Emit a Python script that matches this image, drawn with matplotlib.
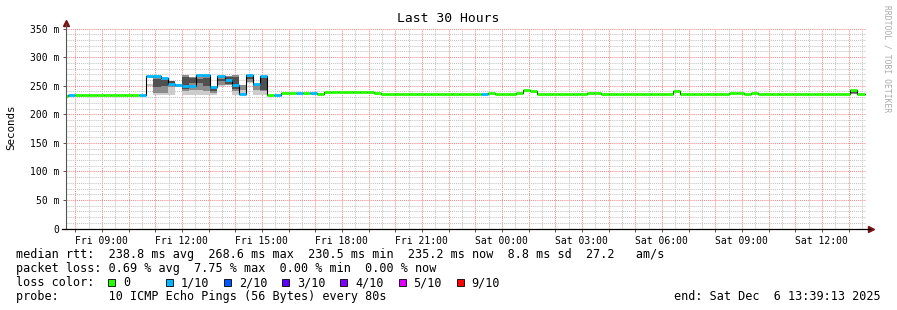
import matplotlib
matplotlib.use("Agg")
import matplotlib.pyplot as plt
import matplotlib.dates as mdates
from matplotlib.patches import Rectangle
from matplotlib.ticker import MultipleLocator, FuncFormatter
import numpy as np
import pandas as pd

W, H = 897, 310
MONO = "DejaVu Sans Mono"

END_TIME = pd.Timestamp("2025-12-06 13:39:13")
START_TIME = END_TIME - pd.Timedelta(hours=30)
FIRST_STEP = pd.Timestamp("2025-12-05 07:28")

# median rtt per 16 minute step (ms)
median_ms = [
    232, 234, 234, 234, 234, 234, 234, 234, 234, 234, 234, 234,
    267, 267, 264, 253, 252, 250, 250, 268, 269, 248, 267, 260, 251, 235, 269, 253, 267,
    234, 234, 237, 237, 237, 237, 237, 235,
    238.5, 238.5, 238.5, 238.5, 238.5, 238.5, 238.5, 237,
    235, 235, 235, 235, 235, 235, 235, 235, 235, 235, 235, 235, 235, 235,
    236, 236.5, 235, 235, 235, 237, 242, 241,
    235, 235, 235, 235, 235, 235, 235, 237, 237,
    235, 235, 235, 235, 235, 235, 235, 235, 235, 235, 241,
    235, 235, 235, 235, 235, 235, 235, 237, 237, 235, 237,
    235, 235, 235, 235, 235, 235, 235, 235, 235, 235, 235, 235, 235,
    242, 235,
]
# steps where 1 of 10 pings was lost
lossy_steps = [1, 11, 12, 13, 14, 15, 16, 17, 18, 19, 20, 21, 22, 23, 24, 25, 26, 27, 28,
               30, 33, 35, 59]

# smoke (spread of the 10 pings) for the steps where it shows
smoke_steps = [12, 13, 14, 15, 16, 17, 18, 19, 20, 21, 22, 23, 24, 25, 26, 27, 28, 111]
light_lo = [249, 234, 234, 234, 250, 234, 234, 234, 234, 234, 250, 251, 234, 234, 254, 234, 234, 235]
light_hi = [253, 243, 243, 258, 253, 269, 266, 266, 268, 247, 265, 267, 269, 251, 268, 251, 266, 240]
mid_lo = [251, 238, 238, 248, 251, 240, 242, 242, 240, 238, 252, 251, 240, 242, 256, 242, 240, 236]
mid_hi = [251, 266, 264, 258, 251, 269, 266, 266, 268, 247, 265, 267, 269, 251, 268, 251, 266, 240]
dark_lo = [251, 248, 250, 252, 251, 245, 255, 255, 250, 240, 258, 253, 245, 251, 262, 251, 243, 237]
dark_hi = [251, 262, 260, 258, 251, 266, 264, 262, 264, 246, 262, 265, 266, 251, 266, 251, 264, 239]

loss_labels = ["0", "1/10", "2/10", "3/10", "4/10", "5/10", "9/10"]
loss_colors = ["#26ff00", "#00b8ff", "#0059ff", "#5e00ff", "#7e00ff", "#dd00ff", "#ff0000"]


def fx(x):
    return x / W


def fy(y):
    return 1 - y / H


fig = plt.figure(figsize=(W / 100, H / 100), dpi=100)
ax = fig.add_axes([fx(66), fy(228.6), 800 / W, 200 / H])

step_w = 16 / 1440
t0 = mdates.date2num(pd.date_range(FIRST_STEP, periods=len(median_ms), freq="16min").to_pydatetime())
med = np.array(median_ms, dtype=float)

# smoke, lighter outside, darker where the pings cluster
s_x = t0[smoke_steps]
for lo, hi, shade in [(light_lo, light_hi, "#cccccc"), (mid_lo, mid_hi, "#8c8c8c"), (dark_lo, dark_hi, "#505050")]:
    ax.bar(s_x, np.array(hi) - np.array(lo), bottom=lo, width=step_w,
           align="edge", color=shade, linewidth=0, zorder=3)

# median: thin black step line under the coloured bars
edges = np.append(t0, t0[-1] + step_w)
ax.step(edges, np.append(med, med[-1]), where="post", color="black", linewidth=0.8, zorder=4)
colors = [loss_colors[1] if i in lossy_steps else loss_colors[0] for i in range(len(med))]
hl = ax.hlines(med, t0, t0 + step_w, colors=colors, linewidth=2.0, zorder=5)
hl.set_capstyle("butt")

ax.set_xlim(mdates.date2num(START_TIME.to_pydatetime()), mdates.date2num(END_TIME.to_pydatetime()))
ax.set_ylim(0, 350)

ax.xaxis.set_major_locator(mdates.HourLocator())
ax.xaxis.set_minor_locator(mdates.MinuteLocator(byminute=[30]))


def time_label(v, pos):
    d = mdates.num2date(v)
    return d.strftime("%a %H:%M") if d.hour % 3 == 0 and d.minute == 0 else ""


ax.xaxis.set_major_formatter(FuncFormatter(time_label))
ax.yaxis.set_major_locator(MultipleLocator(50))
ax.yaxis.set_minor_locator(MultipleLocator(10))
ax.yaxis.set_major_formatter(FuncFormatter(lambda v, p: "0" if v == 0 else f"{v:.0f} m"))

ax.set_axisbelow(True)
ax.grid(which="minor", color="#c4c4c4", linestyle=(0, (1, 1)), linewidth=0.75)
ax.grid(which="major", color="#f08a8a", linestyle=(0, (1, 1)), linewidth=0.75)

ax.tick_params(which="minor", length=0)
ax.tick_params(which="major", length=2.5, width=0.7, color="#555555", labelsize=7, pad=2.5)
for lab in ax.get_xticklabels() + ax.get_yticklabels():
    lab.set_family(MONO)

for side in ["top", "right", "left", "bottom"]:
    ax.spines[side].set_visible(False)

# axes with arrows
ax.plot([0, 0], [0, 1.025], transform=ax.transAxes, color="#555555", linewidth=0.8, clip_on=False, zorder=6)
ax.plot([-0.005, 1.005], [0, 0], transform=ax.transAxes, color="black", linewidth=0.9, clip_on=False, zorder=6)
ax.plot([0], [1.03], marker="^", markersize=4, color="#7a1010", transform=ax.transAxes, clip_on=False)
ax.plot([1.0065], [0], marker=">", markersize=4, color="#7a1010", transform=ax.transAxes, clip_on=False)

fig.text(fx(448), fy(19), "Last 30 Hours", ha="center", va="center", family=MONO, size=9.4)
fig.text(fx(11), fy(127), "Seconds", ha="center", va="center", rotation=90, family=MONO, size=7.8)
fig.text(fx(886.5), fy(59), "RRDTOOL / TOBI OETIKER", ha="center", va="center", rotation=270,
         family=MONO, size=5.8, color="#aaaaaa")

rows_y = [254.5, 268.6, 282.7, 296.7]
fig.text(fx(16), fy(rows_y[0]),
         "median rtt:  238.8 ms avg  268.6 ms max  230.5 ms min  235.2 ms now  8.8 ms sd  27.2   am/s",
         va="center", family=MONO, size=8.5)
fig.text(fx(16), fy(rows_y[1]),
         "packet loss: 0.69 % avg  7.75 % max  0.00 % min  0.00 % now",
         va="center", family=MONO, size=8.5)
fig.text(fx(16), fy(rows_y[2]), "loss color:", va="center", family=MONO, size=8.5)
for i, (lab, col) in enumerate(zip(loss_labels, loss_colors)):
    bx = 108 + 58.1 * i
    fig.patches.append(Rectangle((fx(bx), fy(rows_y[2] + 3.5)), 7 / W, 7 / H, transform=fig.transFigure,
                                 facecolor=col, edgecolor="black", linewidth=0.6))
    fig.text(fx(bx + 15), fy(rows_y[2]), lab, va="center", family=MONO, size=8.5)
fig.text(fx(16), fy(rows_y[3]), "probe:       10 ICMP Echo Pings (56 Bytes) every 80s",
         va="center", family=MONO, size=8.5)
fig.text(fx(881), fy(rows_y[3]), "end: Sat Dec  6 13:39:13 2025", ha="right", va="center",
         family=MONO, size=8.5)

fig.savefig("out.png", dpi=100, facecolor="white")
